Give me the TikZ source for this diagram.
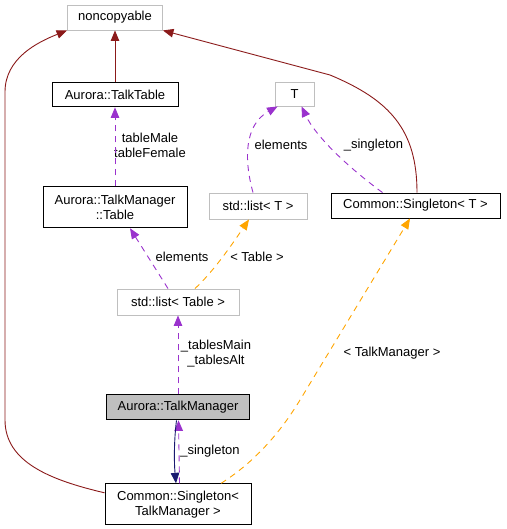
\documentclass[tikz,border=0pt]{standalone}
\usepackage{fontspec}
\setmainfont{Liberation Sans}
\usetikzlibrary{positioning,arrows.meta}

\definecolor{inhred}{HTML}{8B1A1A}
\definecolor{usepurple}{HTML}{9A32CD}
\definecolor{tplorange}{HTML}{FFA500}
\definecolor{navyblue}{HTML}{191970}
\definecolor{boxgray}{HTML}{BFBFBF}

\tikzset{
	tip/.style={-{Triangle[length=10.5pt,width=8.5pt]}},
	cls/.style={draw=black, line width=0.9pt, inner sep=0pt, align=center},
	ext/.style={draw=boxgray, line width=0.9pt, inner sep=0pt, align=center},
	cur/.style={cls, fill=boxgray},
	lbl/.style={inner sep=0pt, align=center},
	inh/.style={draw=inhred, line width=0.9pt, tip},
	use/.style={draw=usepurple, line width=0.9pt, dash pattern=on 6pt off 5pt, tip},
	tpl/.style={draw=tplorange, line width=0.9pt, dash pattern=on 6pt off 5pt, tip},
	own/.style={draw=navyblue, line width=0.9pt, tip}
}

\begin{document}
\begin{tikzpicture}[x=1pt, y=-1pt, font=\fontsize{13}{15}\selectfont]
		\useasboundingbox (0,0) rectangle (506,529);

		\node[ext, minimum width=95pt, minimum height=25pt] (nc) at (115,17.5) {noncopyable} ;
		\node[cls, minimum width=126pt, minimum height=24pt, below=52pt of nc.south, anchor=north] (tt) {Aurora::TalkTable} ;
		\node[cls, minimum width=144pt, minimum height=41pt, below=79pt of tt] (tbl) {Aurora::TalkManager\\::Table} ;

		\node[ext, minimum width=39pt, minimum height=24pt] (T) at (294.5,94) {T} ;
		\node[ext, minimum width=98pt, minimum height=26pt] (lT) at (258,206) {std::list< T >} ;
		\node[cls, minimum width=169pt, minimum height=25pt] (sT) at (415.5,205.5) {Common::Singleton< T >} ;

		\node[ext, minimum width=122pt, minimum height=26pt] (lTbl) at (178,302) {std::list< Table >} ;
		\node[cur, minimum width=143pt, minimum height=25pt, below=79pt of lTbl] (tm) {Aurora::TalkManager} ;
		\node[cls, minimum width=146pt, minimum height=41pt, below=63pt of tm] (sTm) {Common::Singleton<\\TalkManager >} ;

		% edge labels
		\node[lbl] (lTables)   at (150,145) {tableMale\\tableFemale} ;
		\node[lbl] (lElemT)    at (281,145) {elements} ;
		\node[lbl] (lSingT)    at (373.5,145) {\_singleton} ;
		\node[lbl] (lElemTbl)  at (182,257) {elements} ;
		\node[lbl] (lArgTbl)   at (257,257) {< Table >} ;
		\node[lbl] (lMainAlt)  at (216,354) {\_tablesMain\\\_tablesAlt} ;
		\node[lbl] (lArgTm)    at (392,353) {< TalkManager >} ;
		\node[lbl] (lSingTm)   at (210,451) {\_singleton} ;

		% inheritance
		\draw[inh] (tt.north) -- (tt.north |- nc.south) ;
		\draw[inh] ([yshift=11.5pt]sTm.west) .. controls (50,480) and (5,462) .. (5,420)
			-- (5,92) .. controls (5,58) and (38,42) .. (nc.south west) ;
		\draw[inh] ([xshift=1.5pt]sT.north) .. controls (417,130) and (390,100) .. (330,75) -- (nc.south east) ;

		% usage
		\draw[use] (tbl.north) -- (tt.south) ;
		\draw[use] ([xshift=-5pt]lT.north) .. controls (244,160) and (244,125) .. ([xshift=3pt]T.south west) ;
		\draw[use] ([xshift=-33pt]sT.north) .. controls (345,165) and (315,135) .. ([xshift=7pt]T.south) ;
		\draw[use] ([xshift=-10pt]lTbl.north) -- ([xshift=15pt]tbl.south) ;
		\draw[use] (tm.north) -- (lTbl.south) ;
		\draw[use] ([xshift=1.5pt]sTm.north) -- ([xshift=0.5pt]tm.south) ;

		% templates
		\draw[tpl] ([xshift=17pt]lTbl.north) .. controls (215,270) and (235,240) .. ([xshift=-9pt]lT.south) ;
		\draw[tpl] ([xshift=43pt]sTm.north) .. controls (250,465) and (277,438) .. (300,400) -- ([xshift=-5.5pt]sT.south) ;

		% ownership
		\draw[own] ([xshift=-1.5pt]tm.south) .. controls (174,440) and (174,462) .. ([xshift=-2pt]sTm.north) ;
\end{tikzpicture}
\end{document}
